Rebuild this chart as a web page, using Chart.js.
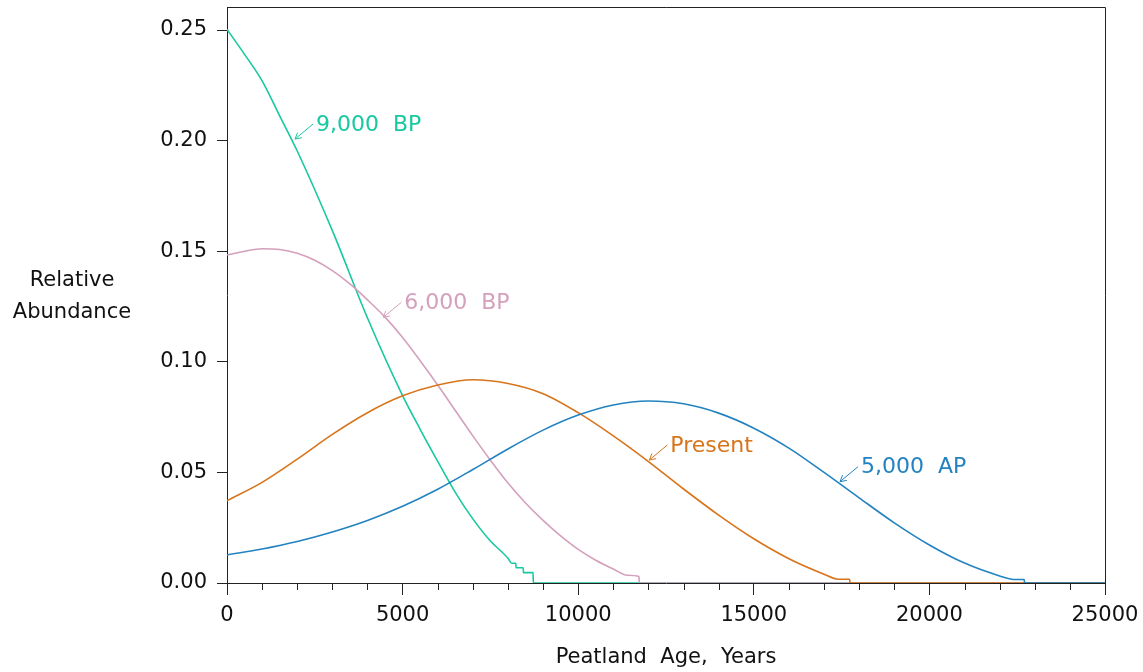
<!DOCTYPE html>
<html>
<head>
<meta charset="utf-8">
<script src="https://cdn.jsdelivr.net/npm/chart.js@4"></script>
<style>
  html, body { margin: 0; padding: 0; background: #fff; }
  #wrap { width: 1143px; height: 672px; position: relative; }
</style>
</head>
<body>
<div id="wrap"><canvas id="c" width="1143" height="672"></canvas></div>
<script>
// ---- Data ----
const ageAP5000 = [0, 1000, 2000, 3000, 4000, 5000, 6000, 7000, 8000, 9000, 10000, 11000, 12000, 13000, 14000, 15000, 16000, 17000, 18000, 19000, 20000, 21000, 22000, 22400, 22700, 22710, 25000];
const abundAP5000 = [0.0127, 0.0154, 0.0188, 0.0231, 0.0283, 0.0347, 0.0424, 0.0513, 0.0606, 0.0691, 0.0759, 0.0805, 0.0823, 0.0810, 0.0768, 0.0700, 0.0610, 0.0500, 0.0385, 0.0272, 0.0172, 0.0090, 0.0032, 0.0016, 0.0016, 0, 0];

const agePresent = [0, 1000, 2000, 3000, 4000, 5000, 6000, 7000, 8000, 9000, 10000, 11000, 12000, 13000, 14000, 15000, 16000, 17000, 17400, 17730, 17740, 25000];
const abundPresent = [0.0372, 0.0455, 0.0560, 0.0672, 0.0770, 0.0846, 0.0895, 0.0919, 0.0902, 0.0856, 0.0770, 0.0665, 0.0549, 0.0425, 0.0307, 0.0200, 0.0110, 0.0040, 0.0017, 0.0017, 0, 0];

const ageBP6000 = [0, 500, 1000, 1500, 2000, 2500, 3000, 3500, 4000, 4500, 5000, 5500, 6000, 6500, 7000, 7500, 8000, 8500, 9000, 9500, 10000, 10500, 11000, 11400, 11730, 11740, 25000];
const abundBP6000 = [0.1483, 0.1500, 0.1511, 0.1508, 0.1491, 0.1459, 0.1412, 0.1352, 0.1280, 0.1202, 0.1110, 0.1005, 0.0895, 0.0780, 0.0665, 0.0555, 0.0452, 0.0362, 0.0283, 0.0213, 0.0152, 0.0103, 0.0063, 0.0035, 0.0029, 0, 0];

const ageBP9000 = [0, 500, 1000, 1500, 2000, 3000, 4000, 5000, 5500, 6000, 6500, 7000, 7500, 8000, 8105, 8225, 8230, 8435, 8440, 8715, 8722, 25000];
const abundBP9000 = [0.2503, 0.2390, 0.2270, 0.2112, 0.1953, 0.1593, 0.1198, 0.0847, 0.0695, 0.0550, 0.0410, 0.0290, 0.0190, 0.0112, 0.0089, 0.0089, 0.0069, 0.0069, 0.0047, 0.0047, 0, 0];

const seriesNames = ['5,000  AP', 'Present', '6,000  BP', '9,000  BP'];
const yTickValues = [0, 0.05, 0.10, 0.15, 0.20, 0.25];
const xTickValues = [0, 5000, 10000, 15000, 20000, 25000];
const xAxisTitle = 'Peatland  Age,  Years';
const yAxisTitle = ['Relative', 'Abundance'];

// label anchors: point on curve (data units) that each arrow points at
const labelAnchorAge = [17454, 12025, 4450, 1936];
const labelAnchorAbund = [0.0458, 0.0556, 0.1201, 0.2007];

// ---- Styles ----
const colors = ['#2283c0', '#d8741a', '#d4a0bc', '#18c8a0'];
const FONT = 'DejaVu Sans';
const chartLeft = 227, chartTop = 7, chartRightPad = 38, xAxisHeight = 89;

function pts(xs, ys) { return xs.map((x, i) => ({ x: x, y: ys[i] })); }
const seriesData = [pts(ageAP5000, abundAP5000), pts(agePresent, abundPresent), pts(ageBP6000, abundBP6000), pts(ageBP9000, abundBP9000)];

const frameAndMinorTicks = {
  id: 'frameAndMinorTicks',
  afterDraw(chart) {
    const ctx = chart.ctx, a = chart.chartArea, xs = chart.scales.x;
    ctx.save();
    ctx.strokeStyle = '#222';
    ctx.lineWidth = 1;
    ctx.beginPath();
    ctx.moveTo(a.left, a.top + 0.5); ctx.lineTo(a.right + 0.5, a.top + 0.5);
    ctx.lineTo(a.right + 0.5, a.bottom);
    ctx.stroke();
    // minor ticks every 1000 years
    ctx.beginPath();
    for (let v = 1000; v < 25000; v += 1000) {
      if (v % 5000 === 0) continue;
      const px = Math.round(xs.getPixelForValue(v)) + 0.5;
      ctx.moveTo(px, a.bottom); ctx.lineTo(px, a.bottom + 7);
    }
    ctx.stroke();
    // y axis title (horizontal, two lines)
    ctx.fillStyle = '#111';
    ctx.font = '21px "' + FONT + '"';
    ctx.textAlign = 'center';
    ctx.textBaseline = 'middle';
    ctx.fillText(yAxisTitle[0], 72, 281);
    ctx.fillText(yAxisTitle[1], 72, 313);
    ctx.restore();
  }
};

const curveLabels = {
  id: 'curveLabels',
  afterDatasetsDraw(chart) {
    const ctx = chart.ctx, xs = chart.scales.x, ys = chart.scales.y;
    ctx.save();
    ctx.font = '22px "' + FONT + '"';
    ctx.textBaseline = 'middle';
    ctx.textAlign = 'left';
    ctx.lineWidth = 1;
    for (let i = 0; i < seriesNames.length; i++) {
      const tx = xs.getPixelForValue(labelAnchorAge[i]);
      const ty = ys.getPixelForValue(labelAnchorAbund[i]);
      const sx = tx + 18, sy = ty - 15;
      ctx.strokeStyle = colors[i];
      ctx.fillStyle = colors[i];
      ctx.beginPath();
      ctx.moveTo(sx, sy); ctx.lineTo(tx, ty);
      const ang = Math.atan2(sy - ty, sx - tx);
      const hl = 7, spread = 0.5;
      ctx.moveTo(tx + hl * Math.cos(ang + spread), ty + hl * Math.sin(ang + spread));
      ctx.lineTo(tx, ty);
      ctx.lineTo(tx + hl * Math.cos(ang - spread), ty + hl * Math.sin(ang - spread));
      ctx.stroke();
      ctx.fillText(seriesNames[i], sx + 3, sy + 1);
    }
    ctx.restore();
  }
};

new Chart(document.getElementById('c'), {
  type: 'line',
  data: {
    datasets: seriesData.map((d, i) => ({
      label: seriesNames[i],
      data: d,
      borderColor: colors[i],
      backgroundColor: colors[i],
      borderWidth: 1.6,
      pointRadius: 0,
      cubicInterpolationMode: 'monotone',
      fill: false
    }))
  },
  options: {
    responsive: false,
    animation: false,
    devicePixelRatio: 1,
    layout: { padding: { top: chartTop, right: chartRightPad, left: 0, bottom: 0 } },
    plugins: { legend: { display: false }, tooltip: { enabled: false } },
    scales: {
      x: {
        type: 'linear',
        min: 0, max: 25000,
        afterFit(s) { s.height = xAxisHeight; s.paddingLeft = 0; s.paddingRight = 0; },
        afterBuildTicks(s) { s.ticks = xTickValues.map(v => ({ value: v })); },
        ticks: { color: '#111', font: { family: FONT, size: 21 }, padding: 8, maxRotation: 0, autoSkip: false, callback: v => String(v) },
        grid: { display: true, drawOnChartArea: false, drawTicks: true, tickLength: 12, tickColor: '#222', tickWidth: 1 },
        border: { display: true, color: '#222', width: 1 },
        title: { display: true, text: xAxisTitle, color: '#111', font: { family: FONT, size: 21 }, padding: { top: 0, bottom: 2 } }
      },
      y: {
        type: 'linear',
        min: 0, max: 0.2604,
        afterFit(s) { s.width = chartLeft; s.paddingTop = 0; s.paddingBottom = 0; },
        afterBuildTicks(s) { s.ticks = yTickValues.map(v => ({ value: v })); },
        ticks: { color: '#111', font: { family: FONT, size: 21 }, padding: 10, callback: v => Number(v).toFixed(2) },
        grid: { display: true, drawOnChartArea: false, drawTicks: true, tickLength: 10, tickColor: '#222', tickWidth: 1 },
        border: { display: true, color: '#222', width: 1 }
      }
    }
  },
  plugins: [frameAndMinorTicks, curveLabels]
});
</script>
</body>
</html>
